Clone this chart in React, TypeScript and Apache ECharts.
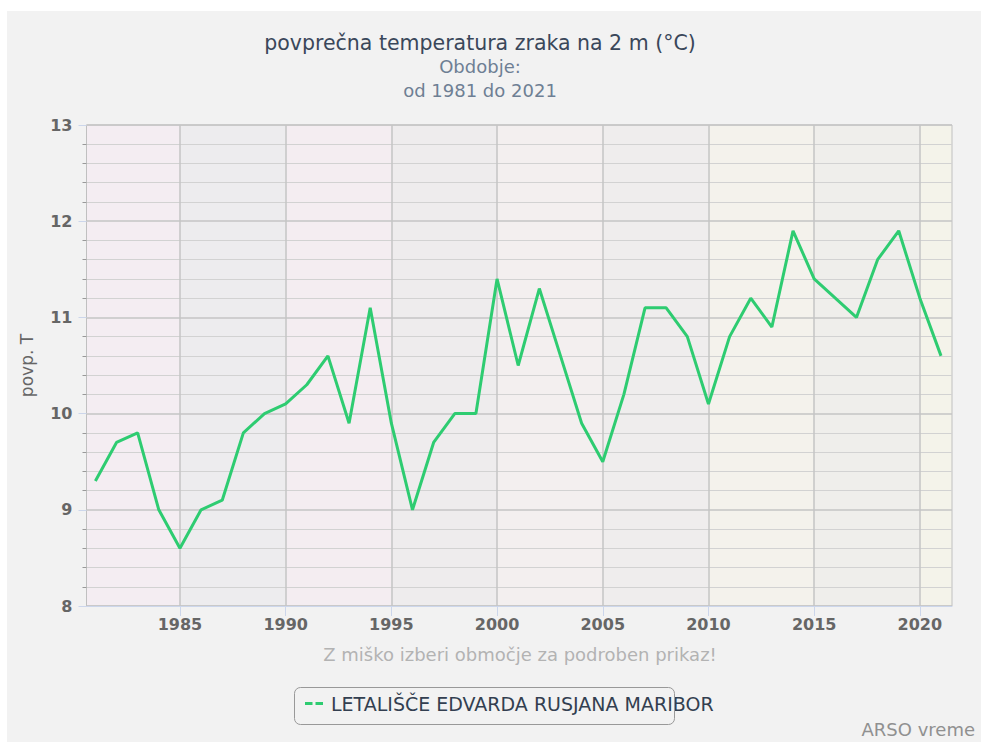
import React, { useEffect, useRef } from "react";
import * as echarts from "echarts";

const years = [1981, 1982, 1983, 1984, 1985, 1986, 1987, 1988, 1989, 1990, 1991, 1992, 1993, 1994, 1995, 1996, 1997, 1998, 1999, 2000, 2001, 2002, 2003, 2004, 2005, 2006, 2007, 2008, 2009, 2010, 2011, 2012, 2013, 2014, 2015, 2016, 2017, 2018, 2019, 2020, 2021];
const temps = [9.3, 9.7, 9.8, 9.0, 8.6, 9.0, 9.1, 9.8, 10.0, 10.1, 10.3, 10.6, 9.9, 11.1, 9.9, 9.0, 9.7, 10.0, 10.0, 11.4, 10.5, 11.3, 10.6, 9.9, 9.5, 10.2, 11.1, 11.1, 10.8, 10.1, 10.8, 11.2, 10.9, 11.9, 11.4, 11.2, 11.0, 11.6, 11.9, 11.2, 10.6];
const xTicks = [1985, 1990, 1995, 2000, 2005, 2010, 2015, 2020];
const bandEdges = [1980.58, 1985, 1990, 1995, 2000, 2005, 2010, 2015, 2020, 2021.52];
const bandColors = ["#f4edf2", "#edecee", "#f4edf1", "#eeeced", "#f3efef", "#efeded", "#f4f2ec", "#efeeeb", "#f4f3ea"];
const seriesName = "LETALIŠČE EDVARDA RUSJANA MARIBOR";
const titleText = "povprečna temperatura zraka na 2 m (°C)";
const subLines = ["Obdobje:", "od 1981 do 2021"];
const yName = "povp. T";
const hintText = "Z miško izberi območje za podroben prikaz!";
const creditText = "ARSO vreme";

const FONT = "DejaVu Sans";

export default function App() {
  const ref = useRef<HTMLDivElement>(null);
  useEffect(() => {
    if (!ref.current) return;
    const chart = echarts.init(ref.current, null, { renderer: "svg" });
    const data = years.map((y, i) => [y, temps[i]]);
    const bands = bandColors.map((c, i) => [
      { xAxis: bandEdges[i], itemStyle: { color: c } },
      { xAxis: bandEdges[i + 1] },
    ]);
    chart.setOption({
      animation: false,
      backgroundColor: "#f2f2f2",
      textStyle: { fontFamily: FONT },
      title: [
        { text: titleText, left: 473, top: 21, textAlign: "center", padding: 0, textStyle: { fontFamily: FONT, fontSize: 20.5, fontWeight: "normal", color: "#3a475a" } },
        { text: subLines[0], left: 473, top: 46, textAlign: "center", padding: 0, textStyle: { fontFamily: FONT, fontSize: 18, fontWeight: "normal", color: "#6e7f94" } },
        { text: subLines[1], left: 473, top: 70, textAlign: "center", padding: 0, textStyle: { fontFamily: FONT, fontSize: 18, fontWeight: "normal", color: "#6e7f94" } },
      ],
      grid: {
        left: 79.5, top: 114, right: 29, bottom: 136,
        show: true, borderColor: "#c0c0c0", borderWidth: 1, backgroundColor: "transparent",
      },
      legend: {
        data: [seriesName],
        left: 298, top: 683, padding: 0,
        icon: "path://M0,0h10v4h-10z M14,0h10v4h-10z",
        itemWidth: 24, itemHeight: 3, itemGap: 8,
        textStyle: { fontFamily: FONT, fontSize: 19, color: "#333f50" },
      },
      xAxis: {
        type: "value", min: bandEdges[0], max: bandEdges[bandEdges.length - 1], z: 3,
        axisLine: { show: true, lineStyle: { color: "#ccd6eb", width: 1 } },
        axisTick: { show: true, customValues: xTicks, length: 10, lineStyle: { color: "#ccd6eb" } },
        axisLabel: { customValues: xTicks, margin: 10, fontFamily: FONT, fontSize: 16, fontWeight: "bold", color: "#666666", formatter: (v: number) => String(v) },
        splitLine: { show: true, lineStyle: { color: "#c4c4c4", width: 1.5 } },
      },
      yAxis: {
        type: "value", min: 8, max: 13, interval: 1, z: 3,
        name: yName, nameLocation: "middle", nameGap: 51, nameRotate: 90,
        nameTextStyle: { fontFamily: FONT, fontSize: 17, color: "#666666" },
        axisLine: { show: false },
        axisTick: { show: true, length: 8, lineStyle: { color: "#ccd6eb" } },
        minorTick: { show: true, splitNumber: 5, length: 4, lineStyle: { color: "#999999" } },
        axisLabel: { margin: 14, fontFamily: FONT, fontSize: 16, fontWeight: "bold", color: "#666666" },
        splitLine: { show: true, lineStyle: { color: "#c4c4c4", width: 1.5 } },
        minorSplitLine: { show: true, lineStyle: { color: "#d2d2d2", width: 1.2 } },
      },
      series: [
        {
          name: "bands", type: "line", z: -1, data, symbol: "none", silent: true,
          lineStyle: { opacity: 0 }, tooltip: { show: false },
          markArea: { silent: true, z: -1, data: bands },
        },
        {
          name: seriesName, type: "line", data, symbol: "none", z: 5,
          color: "#2ecc71",
          lineStyle: { color: "#2ecc71", width: 3 },
        },
      ],
      graphic: [
        { type: "rect", left: 285, top: 674, shape: { width: 380, height: 37, r: 6 }, style: { fill: "none", stroke: "#999999", lineWidth: 1 }, z: 10 },
        { type: "text", x: 513, y: 643, style: { text: hintText, fontFamily: FONT, fontSize: 18, fill: "#b3b3b3", align: "center", verticalAlign: "middle" } },
        { type: "text", x: 968, y: 718, style: { text: creditText, fontFamily: FONT, fontSize: 18, fill: "#909090", align: "right", verticalAlign: "middle" } },
      ],
    });
    return () => chart.dispose();
  }, []);
  return (
    <div
      ref={ref}
      style={{ position: "absolute", left: 7, top: 11, width: 974, height: 731 }}
    />
  );
}
